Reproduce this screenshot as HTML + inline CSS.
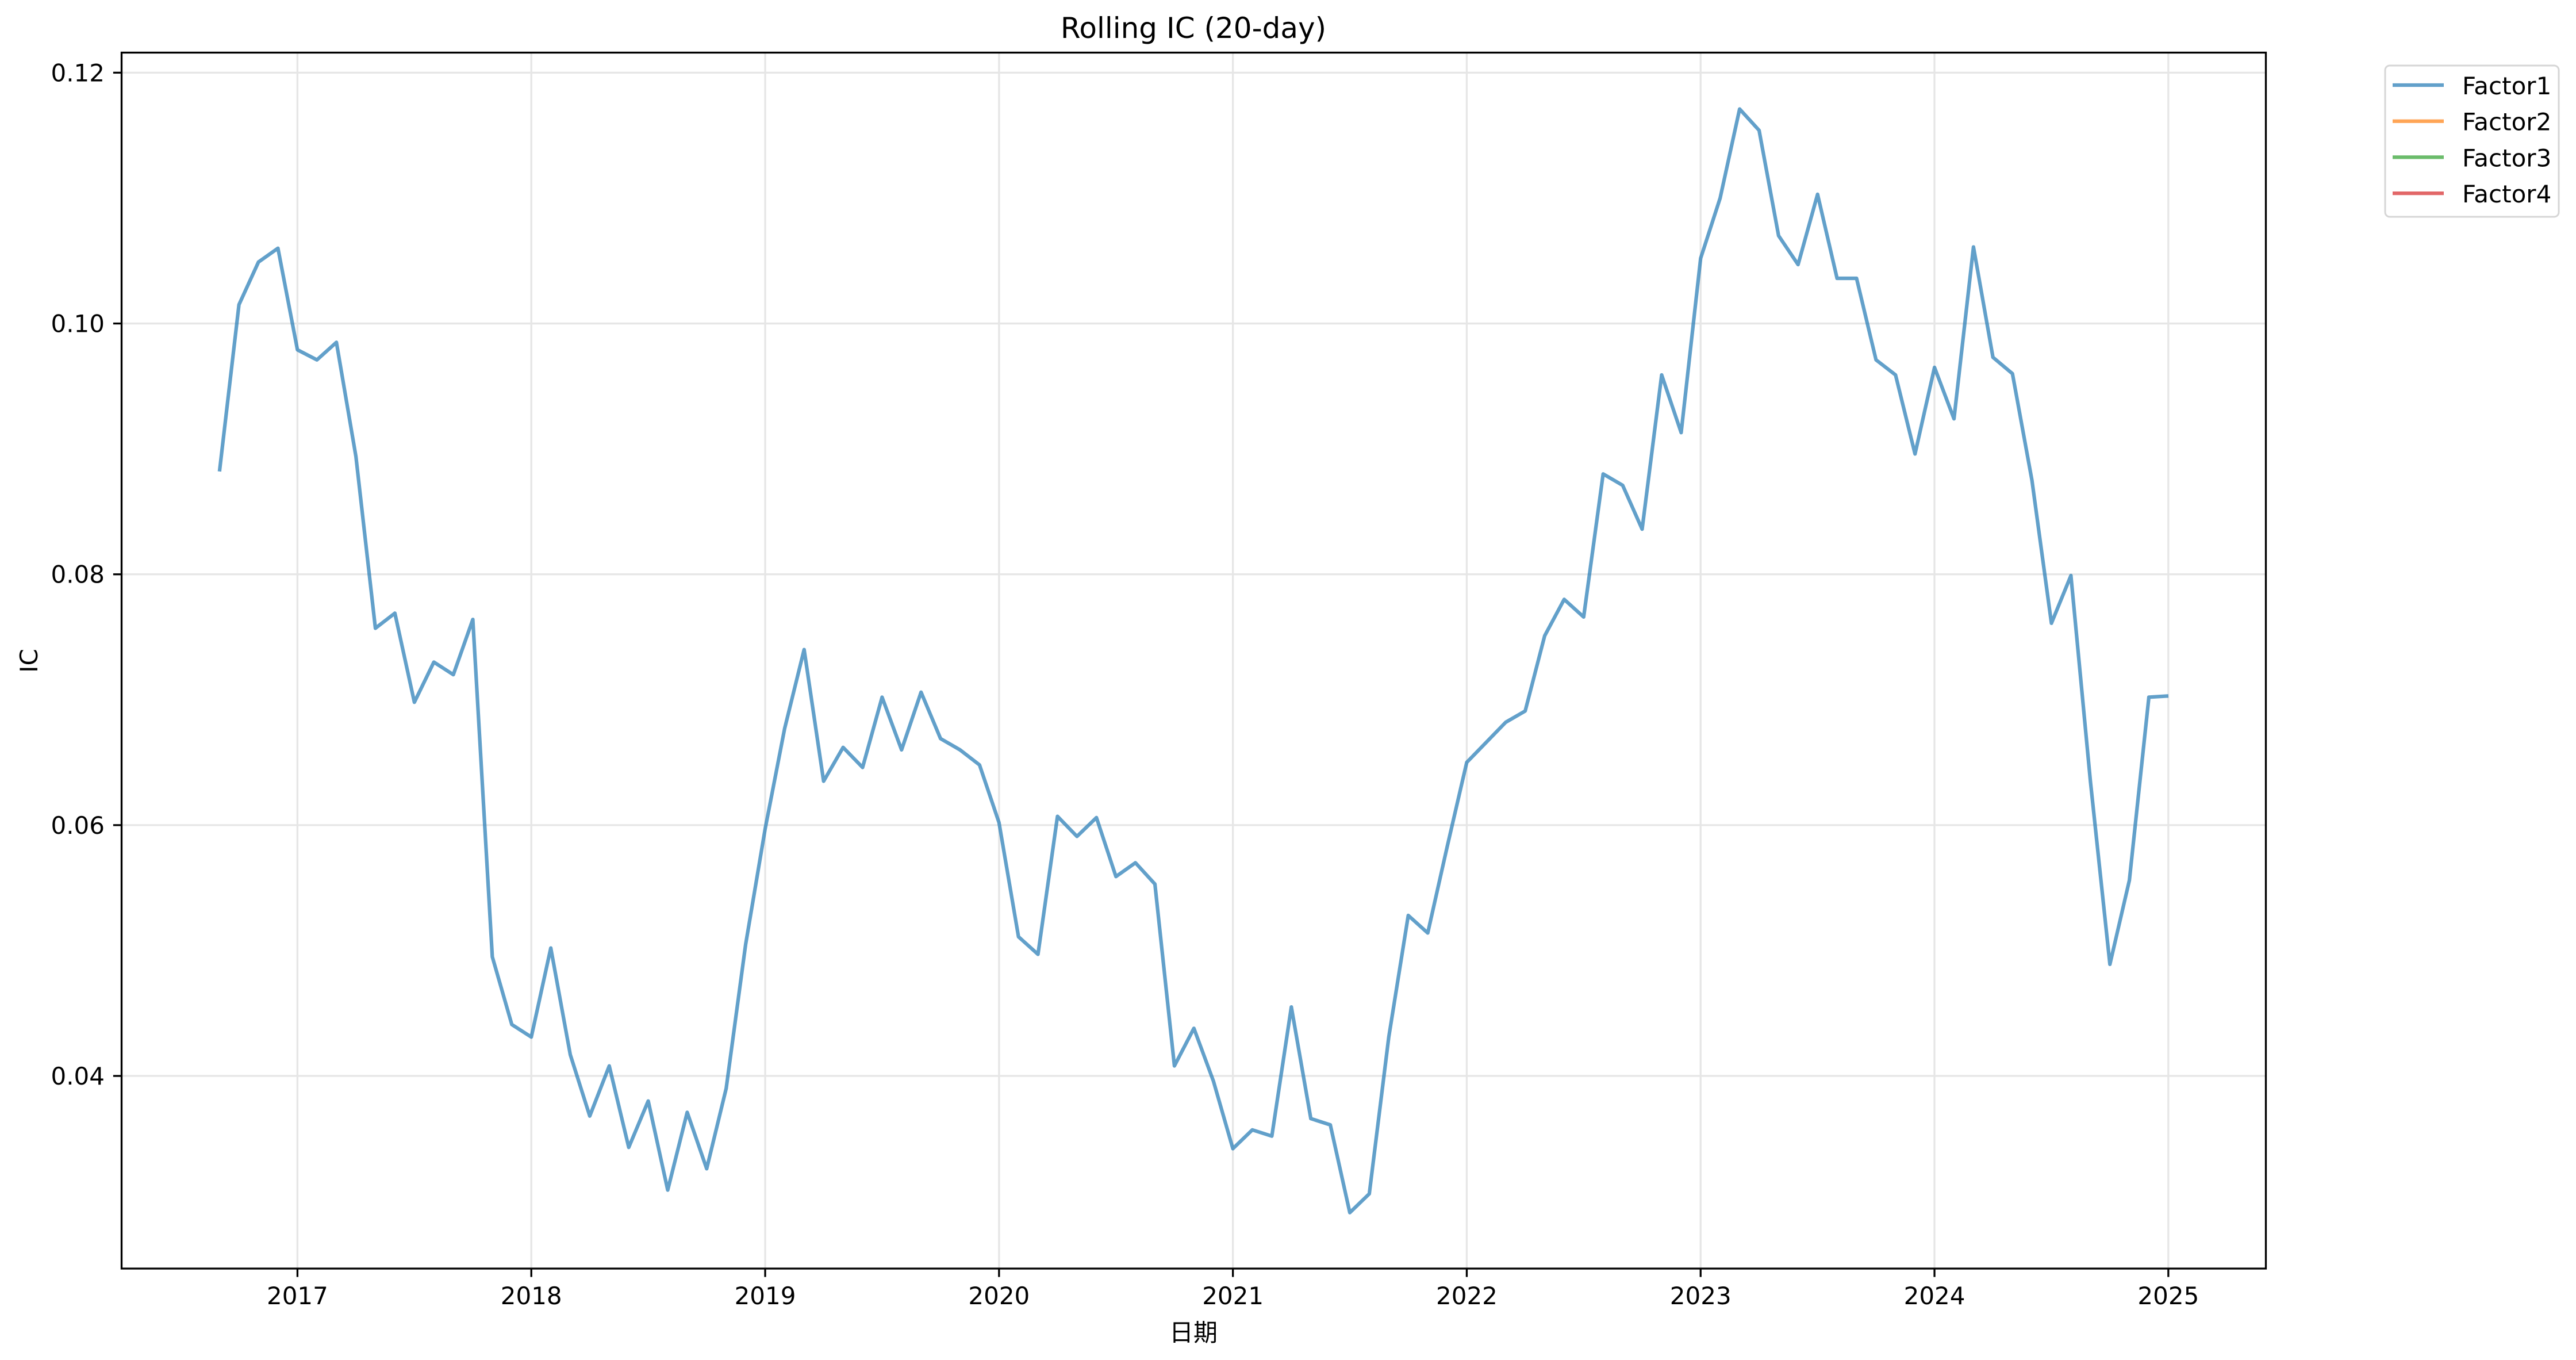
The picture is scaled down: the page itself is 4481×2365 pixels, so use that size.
<!DOCTYPE html>
<html><head><meta charset="utf-8"><style>
html,body{margin:0;padding:0;background:#fff;}
svg{display:block;font-family:"DejaVu Sans","Liberation Sans","Noto Sans CJK SC",sans-serif;}
</style></head><body>
<svg id="chart" width="4481" height="2365" viewBox="0 0 4481 2365" xmlns="http://www.w3.org/2000/svg">
<rect width="4481" height="2365" fill="#fff"/>
<g id="grid"></g>
<g id="series"></g>
<rect x="211.5" y="91.5" width="3730" height="2114.5" fill="none" stroke="#000" stroke-width="3.3"/>
<g id="xticks"></g>
<g id="yticks"></g>
<text x="2076" y="66" font-size="50" text-anchor="middle">Rolling IC (20-day)</text>
<text x="2076" y="2332" font-size="42" text-anchor="middle">日期</text>
<text x="0" y="0" font-size="42" text-anchor="middle" transform="translate(65,1149) rotate(-90)">IC</text>
<g id="legend">
<rect x="4149" y="114" width="302" height="263" rx="8" fill="#fff" stroke="#d6d6d6" stroke-width="3"/>
</g>
</svg>
<script>
const startYear = 2016, startMonth = 9;
const factor1 = [0.0882,0.1015,0.1049,0.1060,0.0979,0.0971,0.0985,0.0894,0.0757,0.0769,0.0698,0.0730,0.0720,0.0764,0.0495,0.0441,0.0431,0.0502,0.0417,0.0368,0.0408,0.0343,0.0380,0.0309,0.0371,0.0326,0.0390,
0.0505,0.0597,0.0677,0.0740,0.0635,0.0662,0.0646,0.0702,0.0660,0.0706,0.0669,0.0660,0.0648,0.0602,0.0511,0.0497,0.0607,0.0591,0.0606,0.0559,0.0570,0.0553,0.0408,0.0438,0.0396,0.0342,0.0357,0.0352,0.0455,
0.0366,0.0361,0.0291,0.0306,0.0431,0.0528,0.0514,0.0583,0.0650,0.0666,0.0682,0.0691,0.0751,0.0780,0.0766,0.0880,0.0871,0.0836,0.0959,0.0913,0.1052,0.1100,0.1171,0.1154,0.1070,0.1047,0.1103,0.1036,
0.1036,0.0971,0.0959,0.0896,0.0965,0.0924,0.1061,0.0973,0.0960,0.0875,0.0761,0.0799,0.0635,0.0489,0.0556,0.0702,0.0703];
const xTickLabels = ["2017","2018","2019","2020","2021","2022","2023","2024","2025"];
const yTickLabels = ["0.04","0.06","0.08","0.10","0.12"];
const legendLabels = ["Factor1","Factor2","Factor3","Factor4"];
const legendColors = ["#1f77b4","#ff7f0e","#2ca02c","#d62728"];

const NS = "http://www.w3.org/2000/svg";
const L=211.5,R=3941.5,T=91.5,B=2206;
const xMin=2016.248,xMax=2025.417,yMin=0.02464,yMax=0.1216;
function xs(v){return L+(v-xMin)/(xMax-xMin)*(R-L);}
function ys(v){return B-(v-yMin)/(yMax-yMin)*(B-T);}
function mk(tag,attrs,parent){const e=document.createElementNS(NS,tag);for(const k in attrs)e.setAttribute(k,attrs[k]);parent.appendChild(e);return e;}
const grid=document.getElementById('grid'),xt=document.getElementById('xticks'),yt=document.getElementById('yticks');
xTickLabels.forEach(lbl=>{
  const x=xs(parseFloat(lbl));
  const g=mk('line',{x1:x,x2:x,y1:T,y2:B,stroke:'#e6e6e6','stroke-width':3.3},grid);
  
  
  const t=mk('line',{x1:x,x2:x,y1:B,y2:B+14.6,stroke:'#000','stroke-width':3.3},xt);
  
  
  const tx=mk('text',{x:x,y:2268,'font-size':42,'text-anchor':'middle'},xt);
  tx.textContent=lbl;
  
  
});
yTickLabels.forEach(lbl=>{
  const y=ys(parseFloat(lbl));
  const g=mk('line',{x1:L,x2:R,y1:y,y2:y,stroke:'#e6e6e6','stroke-width':3.3},grid);
  
  
  const t=mk('line',{x1:L-14.6,x2:L,y1:y,y2:y,stroke:'#000','stroke-width':3.3},yt);
  
  
  const tx=mk('text',{x:182,y:y+15,'font-size':42,'text-anchor':'end'},yt);
  tx.textContent=lbl;
  
  
});
const pts=factor1.map((v,i)=>{const yr=startYear+(startMonth-1+i)/12;return xs(yr).toFixed(1)+','+ys(v).toFixed(1);}).join(' ');
const line=mk('polyline',{points:pts,fill:'none',stroke:'#1f77b4','stroke-opacity':0.7,'stroke-width':6.25,'stroke-linejoin':'round','stroke-linecap':'butt'},document.getElementById('series'));


const lg=document.getElementById('legend');
legendLabels.forEach((lbl,i)=>{
  const y=148+i*62.7;
  const ln=mk('line',{x1:4162,x2:4251,y1:y,y2:y,stroke:legendColors[i],'stroke-opacity':0.7,'stroke-width':6.25},lg);
  
  
  const tx=mk('text',{x:4283,y:y+16,'font-size':42},lg);
  tx.textContent=lbl;
  
  
});
</script>
</body></html>
